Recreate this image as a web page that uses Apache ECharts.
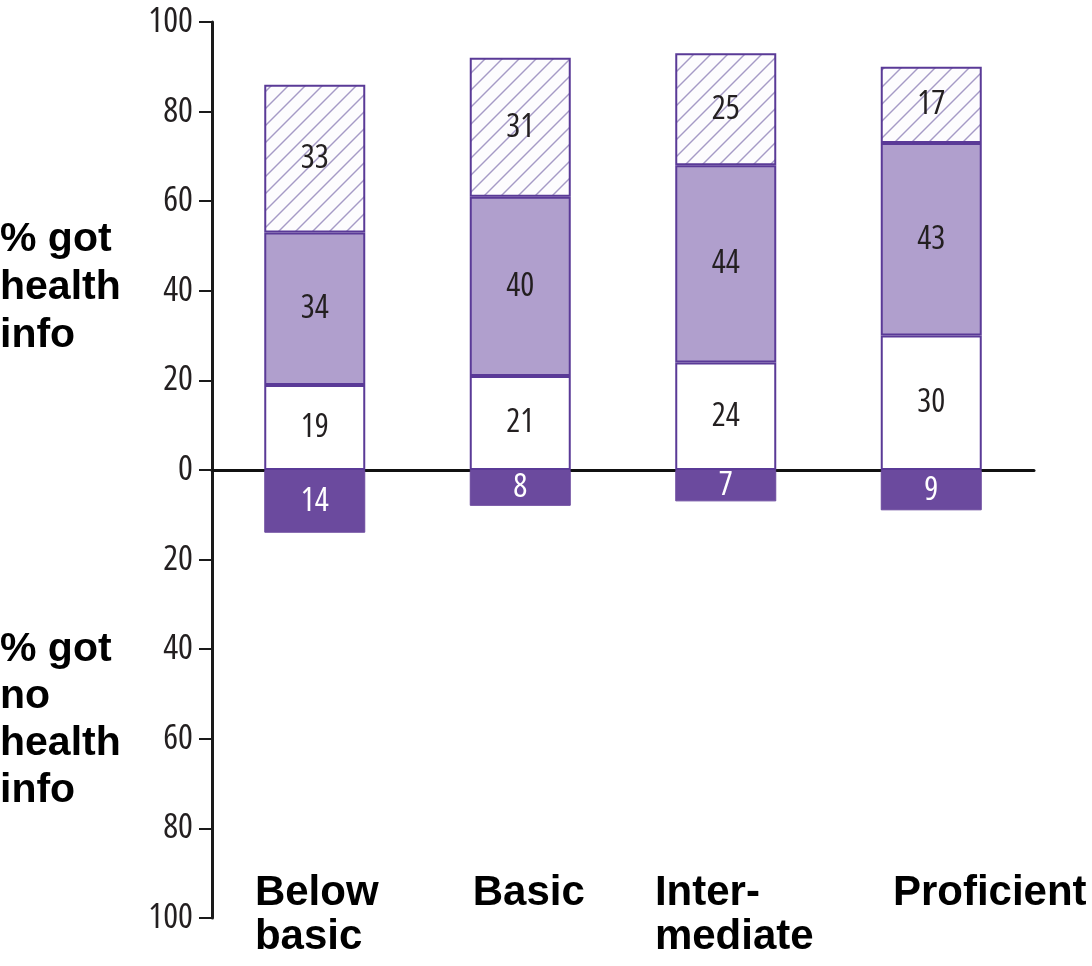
<!DOCTYPE html>
<html>
<head>
<meta charset="utf-8">
<script src="https://cdn.jsdelivr.net/npm/echarts@6/dist/echarts.min.js"></script>
<style>
html,body{margin:0;padding:0;background:#fff;}
#chart{width:1092px;height:966px;}
</style>
</head>
<body>
<div id="chart"></div>
<script>
// ---- data ----
const categories = ['Below\nbasic', 'Basic', 'Inter-\nmediate', 'Proficient'];
const gotLow = [19, 21, 24, 30];        // white segment
const gotMid = [34, 40, 44, 43];        // light purple segment
const gotHigh = [33, 31, 25, 17];       // hatched segment
const gotNone = [-14, -8, -7, -9];      // dark purple, below zero
const yTicks = [-100, -80, -60, -40, -20, 0, 20, 40, 60, 80, 100];
const sideLabelTop = ['% got', 'health', 'info'];
const sideLabelBottom = ['% got', 'no', 'health', 'info'];

// ---- styles ----
const BORDER = '#5a3a97';
const LIGHT = '#b09fcd';
const DARK = '#6b4a9e';
const NARROW = "'Open Sans', 'Roboto Condensed', sans-serif";
const STRETCH = 'condensed';
const BOLD = "'Liberation Sans', Arial, sans-serif";

function hatch() {
  const s = 17;
  const c = document.createElement('canvas');
  c.width = s; c.height = s;
  const ctx = c.getContext('2d');
  ctx.fillStyle = '#fdfcfe';
  ctx.fillRect(0, 0, s, s);
  ctx.strokeStyle = '#a69ac6';
  ctx.lineWidth = 1.4;
  for (let k = -1; k <= 1; k++) {
    ctx.beginPath();
    ctx.moveTo(k * s - 1, s + 1);
    ctx.lineTo(k * s + s + 1, -1);
    ctx.stroke();
  }
  return c;
}

const labelPad = [4, 17, 17, 117];
const rich = {};
labelPad.forEach((p, i) => {
  rich['c' + i] = {
    fontFamily: BOLD, fontWeight: 'bold', fontSize: 42, color: '#000',
    lineHeight: 44, align: 'left', padding: [0, 0, 0, p]
  };
});

const barLabel = (color) => ({
  show: true, position: 'inside', fontFamily: NARROW, fontWeight: STRETCH, fontSize: 33, color: color,
  formatter: (p) => String(Math.abs(p.value))
});

const chart = echarts.init(document.getElementById('chart'), null, {renderer: 'canvas'});
const hatchImg = hatch();

chart.setOption({
  animation: false,
  backgroundColor: '#fff',
  grid: {left: 212, top: 22, width: 822, bottom: 48},
  xAxis: [{
    type: 'category', data: categories,
    axisLine: {show: true, onZero: true, lineStyle: {color: '#111', width: 3}},
    axisTick: {show: false}, axisLabel: {show: false}
  }, {
    type: 'category', data: categories, position: 'bottom',
    axisLine: {show: false, onZero: false}, axisTick: {show: false},
    axisLabel: {
      show: true, margin: -47, interval: 0, hideOverlap: false,
      formatter: (v, i) => v.split('\n').map(l => '{c' + i + '|' + l + '}').join('\n'),
      rich: rich
    }
  }],
  yAxis: {
    type: 'value', min: yTicks[0], max: yTicks[yTicks.length - 1], interval: 20,
    splitLine: {show: false},
    axisLine: {show: true, lineStyle: {color: '#1a1a1a', width: 3}},
    axisTick: {show: true, length: 13, lineStyle: {color: '#1a1a1a', width: 2}},
    axisLabel: {
      margin: 19, fontFamily: NARROW, fontWeight: STRETCH, fontSize: 35, color: '#231f20',
      formatter: (v) => String(Math.abs(v))
    }
  },
  series: [
    {type: 'bar', stack: 'a', data: gotLow, barWidth: 101,
      itemStyle: {color: '#fff', borderColor: BORDER, borderWidth: 2},
      label: barLabel('#231f20')},
    {type: 'bar', stack: 'a', data: gotMid, barWidth: 101,
      itemStyle: {color: LIGHT, borderColor: BORDER, borderWidth: 2},
      label: barLabel('#231f20')},
    {type: 'bar', stack: 'a', data: gotHigh, barWidth: 101,
      itemStyle: {color: {image: hatchImg, repeat: 'repeat'}, borderColor: BORDER, borderWidth: 2},
      label: barLabel('#231f20')},
    {type: 'bar', stack: 'a', data: gotNone, barWidth: 101,
      itemStyle: {color: DARK, borderColor: DARK, borderWidth: 1},
      label: barLabel('#fff'), z: 1}
  ],
  graphic: [
    {type: 'text', left: 0, top: 216, z: 10,
      style: {text: sideLabelTop.join('\n'), font: 'bold 41px ' + BOLD, lineHeight: 48, fill: '#000'}},
    {type: 'text', left: 0, top: 626, z: 10,
      style: {text: sideLabelBottom.join('\n'), font: 'bold 41px ' + BOLD, lineHeight: 47, fill: '#000'}}
  ]
});
</script>
</body>
</html>
